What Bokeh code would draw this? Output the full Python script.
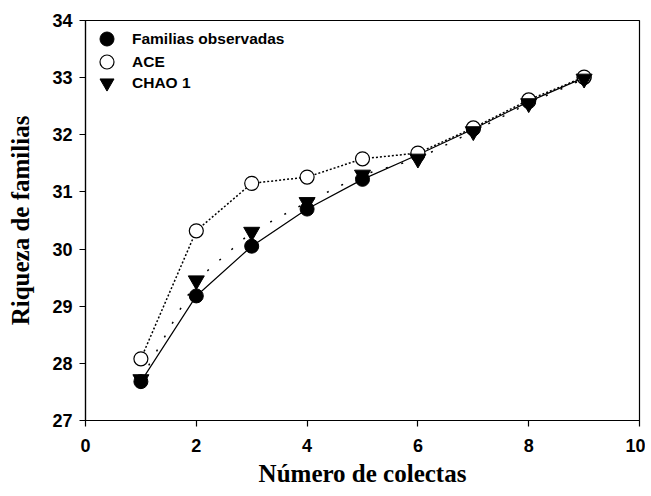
from bokeh.plotting import figure
from bokeh.models import Range1d, FixedTicker, Legend, LegendItem
from bokeh.embed import file_html
from bokeh.resources import INLINE

colectas = [1, 2, 3, 4, 5, 6, 7, 8, 9]
observadas = [27.68, 29.18, 30.05, 30.70, 31.22, 31.65, 32.10, 32.58, 33.00]
ace = [28.08, 30.32, 31.15, 31.26, 31.58, 31.68, 32.12, 32.61, 33.01]
chao1 = [27.72, 29.45, 30.30, 30.82, 31.30, 31.58, 32.06, 32.55, 32.98]
x_ticks = [0, 2, 4, 6, 8, 10]
y_ticks = [27, 28, 29, 30, 31, 32, 33, 34]
legend_labels = ["Familias observadas", "ACE", "CHAO 1"]

p = figure(width=645, height=494, output_backend="svg", toolbar_location=None,
           x_range=Range1d(0, 10), y_range=Range1d(27, 34),
           min_border_left=85, min_border_right=6, min_border_top=20, min_border_bottom=74)

p.xgrid.visible = False
p.ygrid.visible = False
p.outline_line_color = "black"
p.outline_line_width = 1.2
p.background_fill_color = "white"
p.border_fill_color = "white"

for ax in (p.xaxis[0], p.yaxis[0]):
    ax.major_tick_out = 6
    ax.major_tick_in = 0
    ax.minor_tick_out = 0
    ax.minor_tick_in = 0
    ax.axis_line_width = 1.2
    ax.major_tick_line_width = 1.2
    ax.major_label_text_font = "Liberation Sans"
    ax.major_label_text_font_style = "bold"
    ax.major_label_text_font_size = "18px"
    ax.major_label_text_color = "black"
    ax.axis_label_text_font = "Liberation Serif"
    ax.axis_label_text_font_style = "bold"
    ax.axis_label_text_font_size = "25px"
    ax.axis_label_text_color = "black"

p.xaxis[0].ticker = FixedTicker(ticks=x_ticks)
p.yaxis[0].ticker = FixedTicker(ticks=y_ticks)
p.xaxis[0].axis_label = "Número de colectas"
p.yaxis[0].axis_label = "Riqueza de familias"
p.xaxis[0].major_label_standoff = 12
p.yaxis[0].major_label_standoff = 7
p.xaxis[0].axis_label_standoff = 5
p.yaxis[0].axis_label_standoff = 15

p.line(colectas, observadas, line_color="black", line_width=1.2)
p.line(colectas, ace, line_color="black", line_width=1.5, line_dash="2 2")
p.line(colectas, chao1, line_color="black", line_width=1.5, line_dash="2 14")

r_obs = p.scatter(colectas, observadas, marker="circle", size=14,
                  fill_color="black", line_color="black")
r_ace = p.scatter(colectas, ace, marker="circle", size=14,
                  fill_color="white", line_color="black", line_width=1.2)
r_chao = p.scatter(colectas, chao1, marker="inverted_triangle", size=16,
                   fill_color="black", line_color="black")

# one legend per row so the rows can be spaced tighter than the glyph boxes
frame_h = 400
row_centers = [18.5, 41.5, 62.5]  # px below frame top
for lab, rend, cy in zip(legend_labels, [r_obs, r_ace, r_chao], row_centers):
    lg = Legend(items=[LegendItem(label=lab, renderers=[rend])],
                location=(4, frame_h - cy - 17.5))
    lg.glyph_width = 35
    lg.glyph_height = 35
    lg.margin = 0
    lg.padding = 0
    lg.label_standoff = 8
    lg.border_line_color = None
    lg.background_fill_alpha = 0
    lg.label_text_font = "Liberation Sans"
    lg.label_text_font_style = "bold"
    lg.label_text_font_size = "15.5px"
    lg.label_text_color = "black"
    p.add_layout(lg)

open("out.html", "w").write(file_html(p, INLINE))
